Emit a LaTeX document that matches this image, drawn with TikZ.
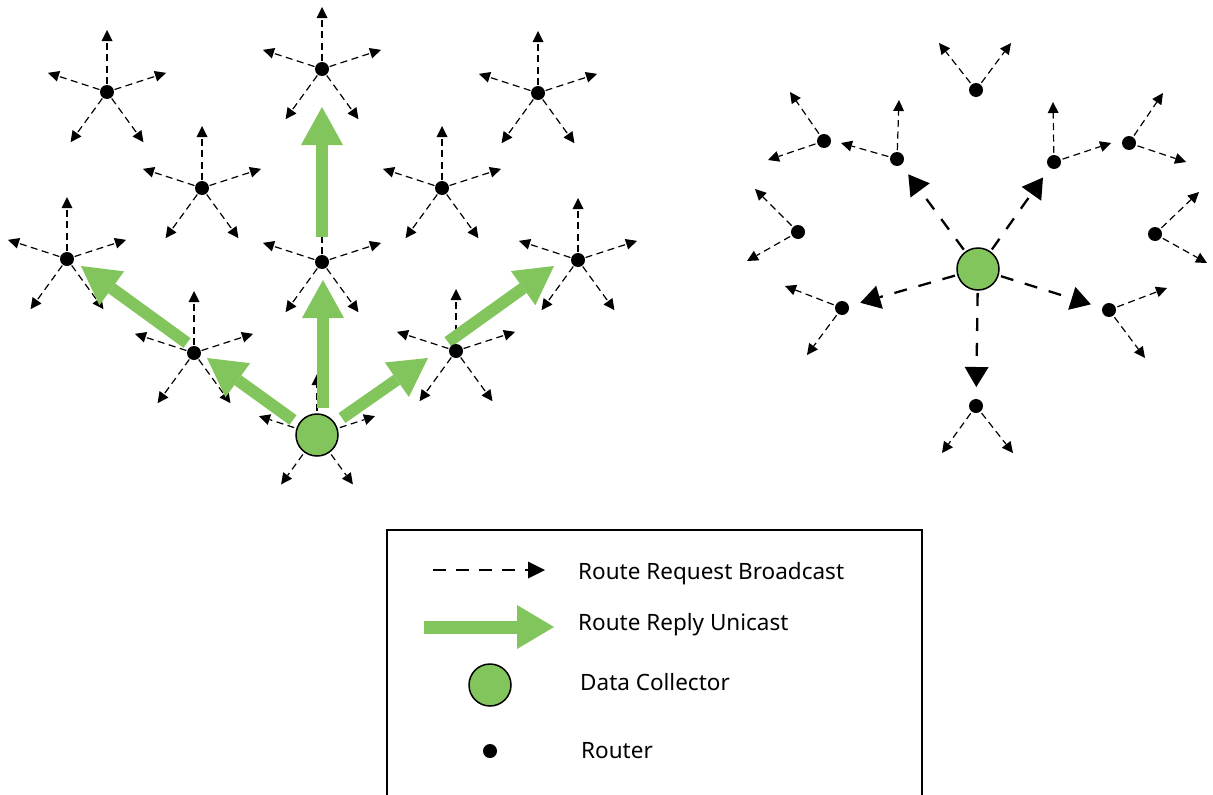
\documentclass[tikz,border=0pt]{standalone}
\usepackage{fontspec}
\setmainfont{Noto Sans}
\usetikzlibrary{arrows.meta,calc}
\definecolor{grn}{RGB}{130,197,92}
\begin{document}
\begin{tikzpicture}[x=1pt,y=-1pt,
  bc/.style={draw=black,line width=1.2pt,dash pattern=on 7pt off 4.5pt,
    -{Triangle[length=11pt,width=11pt,line width=0pt]}},
  bcbig/.style={draw=black,line width=2.3pt,dash pattern=on 13pt off 12pt,
    -{Triangle[length=20pt,width=24pt,line width=0pt]}},
  bclg/.style={draw=black,line width=1.8pt,dash pattern=on 13pt off 10pt,
    -{Triangle[length=17pt,width=17pt,line width=0pt]}},
  reply/.style={draw=grn,line width=12pt,-{Triangle[length=38pt,width=42pt,line width=0pt]}},
  replylg/.style={draw=grn,line width=13pt,-{Triangle[length=37pt,width=44pt,line width=0pt]}},
  router/.style={circle,fill=black,inner sep=0pt,minimum size=14pt},
  collector/.style={circle,fill=grn,draw=black,line width=1.5pt,inner sep=0pt,minimum size=42pt},
  lbl/.style={anchor=base west,font=\fontsize{22.5}{26}\selectfont,inner sep=0pt},
  box/.style={draw=black,line width=1.5pt}]
\useasboundingbox (0,0) rectangle (1213,795);

% ---------- left network ----------
\foreach \n/\x/\y in {A/107/92,B/322/69,C/538/93,D/202/188,E/442/188,
                      F/67/259,G/322/262,H/578/260,I/194/353,J/456/351}
  \coordinate (\n) at (\x,\y);
\coordinate (DC) at (317,435);

\foreach \n in {A,B,C,D,E,F,G,H,I,J}
  \foreach \a in {270,198,342,126,54}
    \draw[bc] ($(\n)+(\a:8)$) -- ($(\n)+(\a:62)$);
\foreach \a in {270,198,342,126,54}
  \draw[bc] ($(DC)+(\a:24)$) -- ($(DC)+(\a:61)$);

% route replies
\coordinate (g1s) at (323,408); \coordinate (g1t) at (323,280);
\coordinate (g2s) at (322,237); \coordinate (g2t) at (322,107);
\coordinate (g3s) at (293,420); \coordinate (g3t) at (207,358);
\coordinate (g4s) at (187,343); \coordinate (g4t) at (81,266);
\coordinate (g5s) at (342,418); \coordinate (g5t) at (428,358);
\coordinate (g6s) at (448,342); \coordinate (g6t) at (554,266);
\foreach \k in {1,...,6}
  \draw[reply] (g\k s) -- (g\k t);

\foreach \n in {A,B,C,D,E,F,G,H,I,J}
  \node[router] (\n n) at (\n) {};
\node[collector] (DCn) at (DC) {};

% ---------- right network ----------
\foreach \n/\x/\y in {R1/976/90,R2/824/141,R3/897/159,R4/1054/162,R5/1129/143,
                      R6/798/232,R7/1155/234,R8/842/308,R9/1109/310,R10/976/406}
  \coordinate (\n) at (\x,\y);
\coordinate (DC2) at (978,269);

\foreach \n/\x/\y in {R1/939/43, R1/1011/43, R2/790/92, R2/768/160,
                      R3/899/100, R3/841/143, R4/1053/102, R4/1111/143,
                      R5/1163/93, R5/1186/162, R6/755/189, R6/747/261,
                      R7/1199/192, R7/1207/263, R8/785/286, R8/807/355,
                      R9/1167/288, R9/1145/358, R10/942/453, R10/1013/453}
  \draw[bc] ($(\n)!9pt!(\x,\y)$) -- (\x,\y);

\foreach \n in {R3,R4,R8,R9,R10}
  \draw[bcbig] ($(DC2)!24pt!(\n)$) -- ($(\n)!19pt!(DC2)$);

\foreach \n in {R1,R2,R3,R4,R5,R6,R7,R8,R9,R10}
  \node[router] (\n n) at (\n) {};
\node[collector] (DC2n) at (DC2) {};

% ---------- legend ----------
\draw[box] (387,796) -- (387,530) -- (922,530) -- (922,796);
\coordinate (l1s) at (433,570); \coordinate (l1t) at (545,570);
\draw[bclg] (l1s) -- (l1t);
\coordinate (l2s) at (424,627); \coordinate (l2t) at (554,627);
\draw[replylg] (l2s) -- (l2t);
\node[collector] (lgdc) at (490,685) {};
\node[router] (lgr) at (490,751) {};
\node[lbl] (t1) at (578,579) {Route Request Broadcast};
\node[lbl] (t2) at (578,630) {Route Reply Unicast};
\node[lbl] (t3) at (580,690) {Data Collector};
\node[lbl] (t4) at (581,758) {Router};
\end{tikzpicture}
\end{document}
